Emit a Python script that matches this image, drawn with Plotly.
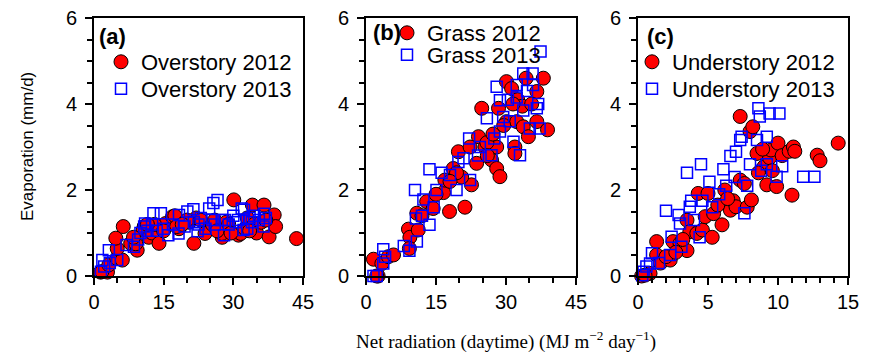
import plotly.graph_objects as go

W, H = 875, 356

# ---------------- data ----------------
over12_x = [1.4, 2.9, 1.7, 3.2, 4.9, 6.1, 5.0, 4.7, 6.3, 7.9, 9.3, 9.0, 10.8, 10.6, 11.8, 12.5, 14.0, 15.4, 16.9, 17.4,
            18.3, 17.8, 20.5, 21.5, 22.0, 23.0, 24.8, 23.9, 25.5, 26.0, 27.6, 27.5, 28.5, 29.0, 30.1, 31.1, 31.6, 32.5,
            33.0, 34.1, 34.5, 35.0, 36.6, 36.0, 37.7, 38.8, 39.1, 43.6, 20.0, 13.0, 15.0, 19.0, 26.5, 29.5, 33.5, 37.0,
            8.5, 11.5]
over12_y = [0.09, 0.09, 0.1, 0.26, 0.41, 0.37, 0.64, 0.88, 1.15, 0.76, 0.6, 0.75, 1.15, 1.07, 0.9, 1.0, 0.76, 1.22, 1.38, 1.4,
            1.1, 1.15, 1.25, 0.76, 1.35, 1.3, 1.1, 0.99, 1.2, 1.3, 0.9, 0.99, 1.25, 1.2, 1.77, 0.95, 0.99, 1.1,
            1.35, 1.65, 1.2, 1.0, 1.65, 1.25, 0.91, 1.42, 1.15, 0.87, 1.3, 1.2, 1.05, 1.2, 1.05, 1.0, 1.05, 1.3,
            0.9, 1.2]
over13_x = [1.8, 2.2, 1.5, 3.2, 3.4, 5.0, 8.6, 7.0, 9.5, 10.8, 11.0, 10.0, 12.8, 14.4, 11.5, 13.5, 12.5, 16.0, 18.2, 18.3,
            17.0, 20.1, 21.4, 19.5, 22.3, 21.5, 23.0, 24.8, 25.7, 26.6, 25.5, 24.0, 26.0, 28.0, 28.2, 29.0, 30.0, 31.8,
            32.2, 32.3, 31.0, 33.0, 33.5, 34.5, 35.5, 36.5, 36.6, 37.0, 27.5, 30.5, 34.0, 22.5, 15.0]
over13_y = [0.37, 0.22, 0.1, 0.6, 0.3, 0.37, 0.68, 0.72, 0.85, 1.15, 1.22, 1.0, 1.46, 1.46, 1.05, 1.05, 1.2, 0.95, 0.99, 1.42,
            1.2, 1.5, 1.55, 1.15, 1.04, 1.25, 1.35, 1.57, 1.7, 1.77, 1.3, 1.1, 1.2, 0.95, 1.3, 1.2, 1.4, 1.57,
            1.07, 1.54, 1.3, 1.1, 1.35, 1.4, 1.3, 1.15, 1.45, 1.35, 1.3, 1.25, 1.25, 1.2, 1.1]

grass12_x = [1.6, 2.6, 2.3, 3.4, 4.8, 5.9, 9.1, 9.4, 9.3, 10.9, 11.2, 13.0, 14.4, 17.9, 16.6, 16.9, 18.7, 21.2, 19.8, 22.6,
             20.5, 23.7, 24.1, 24.8, 25.5, 26.9, 28.0, 28.7, 28.0, 28.4, 30.1, 30.1, 31.9, 31.9, 32.3, 33.7, 34.3, 34.8,
             36.6, 36.6, 38.0, 38.9, 31.2, 32.5, 33.5, 31.5, 29.5, 25.9, 27.2, 22.3, 19.4, 18.0, 15.0, 12.0, 26.0, 35.5]
grass12_y = [0.39, 0.0, 0.0, 0.29, 0.45, 0.49, 1.09, 0.9, 0.64, 1.46, 1.07, 1.73, 1.57, 1.5, 1.94, 2.23, 2.5, 1.6, 2.89, 2.12,
             2.3, 2.62, 3.24, 3.9, 3.0, 2.7, 2.5, 2.31, 3.0, 3.9, 4.52, 3.59, 3.0, 2.85, 3.59, 3.47, 4.6, 3.24,
             4.29, 3.59, 4.6, 3.4, 4.36, 4.1, 3.95, 4.0, 3.5, 3.1, 3.3, 3.0, 2.4, 2.2, 1.9, 1.4, 2.8, 4.0]
grass13_x = [1.6, 2.3, 3.7, 4.1, 3.7, 8.1, 9.3, 10.7, 10.5, 10.9, 12.3, 13.6, 13.6, 15.1, 16.2, 18.0, 19.4, 19.8, 20.9, 22.1,
             22.3, 24.4, 25.9, 26.9, 28.0, 28.7, 28.7, 29.4, 31.6, 33.0, 32.3, 33.7, 35.7, 35.8, 36.9, 36.6, 37.4, 35.1,
             37.2, 33.7, 30.8, 30.4, 32.3, 27.5, 24.0, 34.5, 12.0, 14.5]
grass13_y = [0.0, 0.0, 0.62, 0.45, 0.29, 0.7, 0.59, 1.34, 2.0, 0.8, 1.78, 2.48, 1.19, 2.0, 2.4, 2.35, 2.0, 2.65, 2.74, 3.2,
             2.23, 3.0, 3.67, 2.81, 4.4, 4.09, 3.36, 3.7, 3.12, 2.81, 4.44, 4.71, 4.71, 4.44, 4.0, 3.9, 5.22, 3.43,
             3.43, 3.85, 3.6, 4.1, 4.15, 3.2, 2.8, 4.3, 1.4, 1.6]

under12_x = [0.26, 0.86, 0.5, 1.33, 1.33, 1.6, 2.3, 2.5, 3.0, 3.5, 3.5, 3.7, 4.2, 4.3, 4.6, 4.8, 5.0, 5.3, 5.4, 6.0,
             6.2, 6.6, 6.8, 7.0, 7.3, 7.3, 7.8, 7.6, 8.1, 8.0, 8.2, 8.5, 9.0, 9.2, 9.4, 9.5, 9.9, 10.0, 10.3, 10.8,
             11.0, 11.1, 11.2, 12.8, 13.0, 14.3, 9.6, 8.9, 8.6, 5.7, 6.4, 2.0, 2.7, 3.2]
under12_y = [0.0, 0.06, 0.02, 0.8, 0.49, 0.3, 0.37, 0.8, 0.76, 0.59, 1.3, 1.03, 0.99, 1.92, 1.07, 1.38, 1.92, 0.9, 1.45, 1.19,
             2.0, 1.53, 1.75, 1.61, 2.23, 3.71, 1.6, 2.15, 1.77, 3.36, 3.47, 2.85, 2.54, 2.12, 2.75, 2.93, 2.08, 3.09, 2.8, 2.9,
             1.88, 3.0, 2.9, 2.81, 2.68, 3.09, 2.45, 2.95, 2.4, 1.65, 1.8, 0.45, 0.55, 0.85]
under13_x = [0.4, 0.6, 0.86, 1.0, 0.3, 2.0, 2.3, 2.4, 2.9, 3.0, 3.1, 3.5, 3.7, 3.8, 4.4, 4.5, 4.6, 5.1, 5.3, 6.1,
             6.3, 6.6, 7.0, 7.3, 7.4, 7.6, 7.8, 8.0, 8.6, 8.7, 8.5, 9.2, 9.4, 10.1, 9.2, 9.9, 10.3, 11.8, 12.6, 8.8,
             5.8, 4.0, 1.5, 6.9]
under13_y = [0.1, 0.22, 0.29, 0.53, 0.02, 1.52, 0.49, 0.91, 1.42, 1.22, 0.68, 2.4, 1.61, 1.75, 0.9, 2.6, 1.75, 2.19, 1.6, 2.48,
             2.1, 2.79, 2.89, 3.16, 3.24, 1.46, 2.1, 2.6, 3.9, 3.71, 3.16, 3.24, 3.78, 3.78, 2.6, 2.31, 2.55, 2.31, 2.31, 2.45,
             1.9, 1.3, 0.3, 2.3]

names = ["Overstory 2012", "Overstory 2013", "Grass 2012", "Grass 2013", "Understory 2012", "Understory 2013"]
panel_labels = ["(a)", "(b)", "(c)"]
x_ranges = [[0, 45], [0, 45], [0, 15]]
x_dticks = [15, 15, 5]
x_minor = [5, 5, 1]

# ---------------- layout geometry (pixels) ----------------
x_dom_px = [(94, 303), (366, 576), (638, 848)]
y_top_px, y_bot_px = 18, 276

def px(x):
    return x / W

def py(y):
    return (H - y) / H

SANS = "Liberation Sans, Arial, sans-serif"
SERIF = "Liberation Serif, Times New Roman, serif"

fig = go.Figure()

series = [
    (over12_x, over12_y, over13_x, over13_y),
    (grass12_x, grass12_y, grass13_x, grass13_y),
    (under12_x, under12_y, under13_x, under13_y),
]

legend_pos = [
    # (text-left px, row1 y px, row2 y px)
    (141, 62, 89),
    (427, 33, 55),
    (672, 62, 89),
]

for i, (x12, y12, x13, y13) in enumerate(series):
    ax = "" if i == 0 else str(i + 1)
    lg1 = "legend" if i == 0 else f"legend{2 * i + 1}"
    lg2 = f"legend{2 * i + 2}"
    fig.add_trace(go.Scatter(
        x=x12, y=y12, mode="markers", name=names[2 * i],
        xaxis="x" + ax, yaxis="y" + ax, legend=lg1, cliponaxis=False,
        marker=dict(symbol="circle", size=14, color="#FF0000",
                    line=dict(color="black", width=1)),
    ))
    fig.add_trace(go.Scatter(
        x=x13, y=y13, mode="markers", name=names[2 * i + 1],
        xaxis="x" + ax, yaxis="y" + ax, legend=lg2, cliponaxis=False,
        marker=dict(symbol="square-open", size=11, color="#0000FF",
                    line=dict(color="#0000FF", width=1.5)),
    ))

layout = dict(
    width=W, height=H,
    margin=dict(l=0, r=0, t=0, b=0, autoexpand=False),
    paper_bgcolor="white", plot_bgcolor="white",
    font=dict(family=SANS, size=20, color="black"),
    showlegend=True,
)

axis_common = dict(
    showgrid=False, zeroline=False, showline=True, linecolor="black", linewidth=2,
    mirror=True, ticks="outside", ticklen=7, tickwidth=1.5, tickcolor="black",
    tickfont=dict(family=SANS, size=20, color="black"), automargin=False,
)

for i in range(3):
    ax = "" if i == 0 else str(i + 1)
    x0, x1 = x_dom_px[i]
    layout["xaxis" + ax] = dict(
        axis_common, domain=[px(x0), px(x1)], range=x_ranges[i], dtick=x_dticks[i], tick0=0,
        anchor="y" + ax, ticklabelstandoff=0,
        minor=dict(dtick=x_minor[i], ticks="outside", ticklen=5, tickwidth=1.5, tickcolor="black", showgrid=False),
    )
    layout["yaxis" + ax] = dict(
        axis_common, domain=[py(y_bot_px), py(y_top_px)], range=[0, 6], dtick=2, tick0=0,
        anchor="x" + ax, ticklabelstandoff=4,
        minor=dict(dtick=0.5, ticks="outside", ticklen=5, tickwidth=1.5, tickcolor="black", showgrid=False),
    )

# legends: one per entry, placed like the reference
for i, (tx, r1, r2) in enumerate(legend_pos):
    lg1 = "legend" if i == 0 else f"legend{2 * i + 1}"
    lg2 = f"legend{2 * i + 2}"
    for key, ry in ((lg1, r1), (lg2, r2)):
        layout[key] = dict(
            x=px(tx - 40), y=py(ry), xanchor="left", yanchor="middle",
            bgcolor="rgba(0,0,0,0)", borderwidth=0, itemwidth=30,
            font=dict(family=SANS, size=22, color="black"),
        )

annotations = []
label_px = [(97, 37), (371, 33), (645, 37)]
for i, lab in enumerate(panel_labels):
    lx, ly = label_px[i]
    annotations.append(dict(
        text="<b>" + lab + "</b>", x=px(lx), y=py(ly), xref="paper", yref="paper",
        xanchor="left", yanchor="middle", showarrow=False,
        font=dict(family=SANS, size=22, color="black"),
    ))

annotations.append(dict(
    text="Evaporation (mm/d)", textangle=-90, x=px(28), y=py(147), xref="paper", yref="paper",
    xanchor="center", yanchor="middle", showarrow=False,
    font=dict(family=SANS, size=17, color="black"),
))
annotations.append(dict(
    text="Net radiation (daytime) (MJ m<sup>\u22122</sup> day<sup>\u22121</sup>)",
    x=px(506), y=py(340), xref="paper", yref="paper",
    xanchor="center", yanchor="middle", showarrow=False,
    font=dict(family=SERIF, size=19, color="black"),
))
layout["annotations"] = annotations

fig.update_layout(**layout)
fig.write_html("out.html", config={"displayModeBar": False},
               post_script="document.body.style.margin='0px';")
